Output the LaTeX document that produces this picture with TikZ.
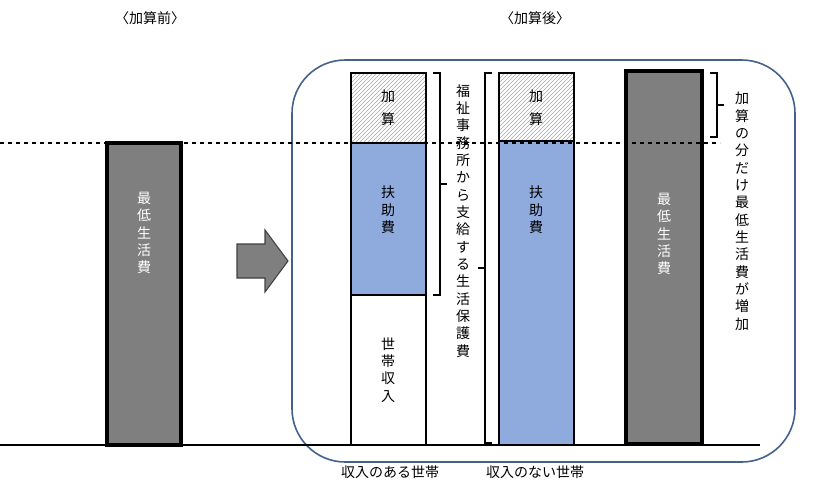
\documentclass[tikz,border=0pt]{standalone}
\usepackage{fontspec}
\setmainfont{Noto Sans CJK JP}
\usetikzlibrary{patterns}
\definecolor{fuj}{HTML}{8FAADC}
\definecolor{gry}{HTML}{7F7F7F}
\definecolor{frm}{HTML}{44618C}
\begin{document}
\begin{tikzpicture}[x=0.75pt,y=-0.75pt,
  bar/.style={draw=black,line width=0.9pt},
  gbar/.style={draw=black,line width=3pt,fill=gry},
  hat/.style={bar,pattern=north east lines,pattern color=gray!70},
  vt/.style={align=center,font=\fontsize{10.5}{13}\selectfont,inner sep=0pt},
  br/.style={line width=0.8pt}]
\useasboundingbox (0,0) rectangle (817,490);
\draw[rounded corners=40pt,draw=frm,line width=1.2pt] (292,60) rectangle (795,462);
% left
\draw[gbar] (107,143) rectangle (181,445);
\node[vt,text=white] (l1) at (144,233) {最\\低\\生\\活\\費};
% arrow
\draw[fill=gry,draw=black!75,line width=0.8pt] (237,244)--(265,244)--(265,230)--(288,261)--(265,292)--(265,278)--(237,278)--cycle;
% bar1
\draw[hat] (351,73) rectangle (426,143);
\draw[bar,fill=fuj] (351,143) rectangle (426,295);
\draw[bar,fill=white] (351,295) rectangle (426,445);
\node[vt] (k1) at (388,108) {加\\[4pt]算};
\node[vt] (f1) at (388,210) {扶\\助\\費};
\node[vt] (s1) at (388,370) {世\\帯\\収\\入};
% bracket1
\draw[br] (433,73)--(440,73)--(440,295)--(433,295);
\draw[br] (440,184)--(447,184);
\node[vt,anchor=north] (t1) at (463,84) {福\\祉\\事\\務\\所\\か\\ら\\支\\給\\す\\る\\生\\活\\保\\護\\費};
% bracket2
\draw[br] (492,73)--(485,73)--(485,443)--(492,443);
\draw[br] (485,268)--(478,268);
% bar2
\draw[hat] (499,73) rectangle (574,141);
\draw[bar,fill=fuj] (499,141) rectangle (574,445);
\node[vt] (k2) at (536,108) {加\\[4pt]算};
\node[vt] (f2) at (536,210) {扶\\助\\費};
% bar3
\draw[gbar] (626,71) rectangle (702,444);
\node[vt,text=white] (g3) at (664,234) {最\\低\\生\\活\\費};
% bracket3
\draw[br] (710,73)--(717,73)--(717,137)--(710,137);
\draw[br] (717,105)--(724,105);
\node[vt,anchor=north] (t3) at (742,92) {加\\算\\の\\分\\だ\\け\\最\\低\\生\\活\\費\\が\\増\\加};
% lines
\draw[dashed,line width=1.1pt] (0,143)--(720,143);
\draw[line width=1.1pt] (0,445)--(760,445);
% labels
\node[font=\fontsize{10.5}{12}\selectfont] (h1) at (150,18) {〈加算前〉};
\node[font=\fontsize{10.5}{12}\selectfont] (h2) at (535,18) {〈加算後〉};
\node[font=\fontsize{10.5}{12}\selectfont] (b1) at (390,472) {収入のある世帯};
\node[font=\fontsize{10.5}{12}\selectfont] (b2) at (535,472) {収入のない世帯};
\end{tikzpicture}
\end{document}
